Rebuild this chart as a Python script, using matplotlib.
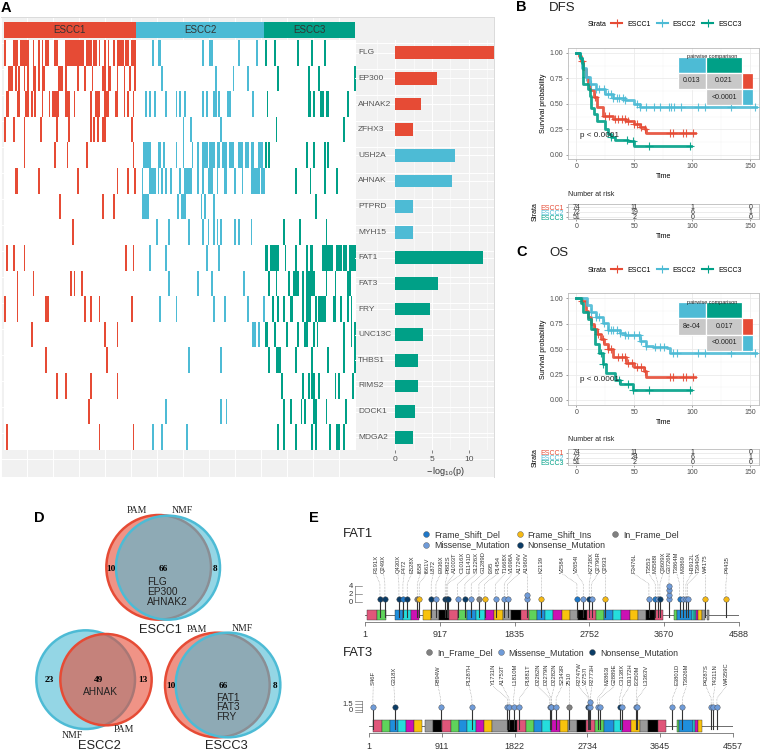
#multi panel figure: mutation heatmap, survival curves, venn diagrams, lollipops
import numpy as np
import matplotlib
matplotlib.use("Agg")
import matplotlib.pyplot as plt
from matplotlib.colors import ListedColormap, to_rgba
from matplotlib.lines import Line2D
from matplotlib.patches import Circle, Rectangle

plt.rcParams['font.family'] = ['Liberation Sans', 'DejaVu Sans']
plt.rcParams['mathtext.fontset'] = 'custom'
plt.rcParams['mathtext.rm'] = 'Liberation Sans'
plt.rcParams['mathtext.default'] = 'regular'

RED = '#E64B35'
BLUE = '#4DBBD5'
GREEN = '#00A087'

#panel A data
groups = ['ESCC1', 'ESCC2', 'ESCC3']
group_sizes = [74, 72, 51]
genes = ['FLG', 'EP300', 'AHNAK2', 'ZFHX3', 'USH2A', 'AHNAK', 'PTPRD', 'MYH15',
         'FAT1', 'FAT3', 'FRY', 'UNC13C', 'THBS1', 'RIMS2', 'DOCK1', 'MDGA2']
gene_group = [0, 0, 0, 0, 1, 1, 1, 1, 2, 2, 2, 2, 2, 2, 2, 2]
logp = [13.5, 5.7, 3.5, 2.45, 8.15, 7.75, 2.4, 2.4, 12.0, 5.8, 4.65, 3.8, 3.05, 3.05, 2.6, 2.4]
#mutated samples per gene, as runs (first, stop)
mutated = [
    [(0,1),(5,8),(9,14),(16,17),(19,20),(21,22),(23,25),(28,30),(34,45),(46,49),(50,52),(53,54),(56,57),(58,59),
     (61,62),(63,67),(68,70),(71,74),(83,84),(86,88),(111,112),(115,117),(131,132),(141,142),(146,147),(151,152),
     (164,165),(172,173),(179,180)],
    [(2,5),(6,7),(8,9),(11,12),(13,14),(16,18),(19,20),(21,23),(30,33),(34,35),(41,42),(45,46),(49,50),(55,57),
     (58,60),(63,64),(67,68),(70,71),(73,74),(88,89),(118,119),(128,129),(136,137),(153,154),(170,171),(176,177),(196,197)],
    [(1,3),(7,9),(12,14),(15,16),(17,18),(21,22),(25,26),(27,31),(34,37),(39,40),(48,49),(51,54),(56,59),(62,64),
     (67,68),(69,70),(72,73),(79,80),(81,82),(84,85),(90,91),(96,97),(98,99),(101,102),(111,112),(113,114),(117,119),
     (120,121),(125,127),(139,140),(147,148),(170,172),(173,174),(177,179),(180,182),(192,193)],
    [(0,1),(5,6),(11,12),(20,21),(29,30),(36,37),(48,49),(50,51),(52,53),(55,57),(71,72),(100,101),(104,105),(121,122),
     (152,153),(190,191)],
    [(11,12),(28,29),(35,36),(46,47),(72,73),(78,82),(86,88),(89,90),(96,97),(100,101),(105,106),(108,109),(111,114),
     (115,118),(119,121),(122,125),(126,129),(131,134),(135,137),(138,140),(142,145),(146,147),(148,149),(169,170),
     (173,174),(179,180),(181,182)],
    [(6,8),(19,20),(41,42),(63,64),(69,70),(73,74),(77,78),(81,85),(86,87),(88,89),(90,91),(93,94),(98,99),(101,105),
     (108,109),(111,112),(114,117),(119,120),(123,125),(129,130),(133,134),(138,143),(144,146),(163,164),(171,172),
     (179,180),(186,187)],
    [(31,32),(55,56),(61,62),(77,81),(97,98),(99,102),(110,111),(112,113),(117,118),(174,175)],
    [(38,39),(85,86),(92,93),(103,104),(111,112),(114,115),(117,118),(119,120),(121,122),(129,130),(131,132),(138,139),
     (156,157),(165,166),(180,181)],
    [(1,2),(5,6),(11,12),(68,69),(72,73),(81,82),(90,91),(113,114),(120,121),(146,148),(149,154),(157,158),(163,164),
     (169,170),(171,173),(178,184),(186,189),(190,192),(193,197)],
    [(7,8),(16,17),(37,38),(39,40),(43,44),(92,93),(108,109),(116,117),(134,135),(148,149),(152,153),(159,160),(162,165),
     (167,168),(169,174),(180,181),(185,186),(192,194)],
    [(0,1),(7,8),(23,25),(45,46),(48,49),(53,54),(71,72),(87,88),(96,97),(117,118),(123,124),(136,137),(145,146),(150,151),
     (153,154),(156,157),(160,162),(167,168),(169,172),(174,175),(176,180),(184,186),(188,189),(192,193),(194,195)],
    [(15,16),(56,57),(63,64),(139,141),(142,143),(146,148),(151,152),(158,159),(164,165),(168,170),(173,174),(175,176),
     (190,191),(194,195),(196,197)],
    [(23,24),(57,58),(103,104),(121,122),(148,149),(152,155),(163,164),(172,173),(181,182),(190,191),(196,197)],
    [(29,30),(34,35),(48,49),(63,64),(155,156),(167,168),(170,171),(172,174),(176,177),(185,186),(187,188),(195,196)],
    [(47,48),(90,91),(121,122),(124,125),(156,157),(160,161),(166,167),(168,169),(173,175),(180,181),(191,192)],
    [(1,2),(53,54),(72,73),(83,84),(88,89),(102,103),(153,154),(156,157),(163,164),(172,173),(174,175),(182,183),(186,188),(190,191)],
]

#survival curves, time and probability at each step, then censoring times
dfs_t = [[0,2,4,6,8,10,12,15,18,23,32,43,50,55,59,60,102],
         [0,3,5,8,12,17,25,32,42,50,55,155],
         [0,3,5,6,10,12,13,15,18,25,27,30,33,45,50,99]]
dfs_s = [[1,.97,.92,.84,.76,.70,.64,.57,.47,.38,.35,.33,.30,.27,.25,.21,.21],
         [1,.95,.85,.76,.70,.65,.60,.56,.54,.50,.47,.47],
         [1,.95,.90,.70,.65,.58,.46,.40,.33,.25,.20,.17,.14,.13,.09,.09]]
dfs_c = [[5,16,25,28,33,36,39,42,45,50,52,56,59,81,83,92,95,101],
         [8,13,17,20,24,27,30,32,35,37,40,42,52,55,60,67,72,80,82,84,90,105,111,133,154],
         [30,44,49,63,98]]
os_t = [[0,5,8,10,13,15,18,21,24,27,32,43,50,58,60,102],
        [0,9,13,17,23,27,38,42,55,60,66,78,81,155],
        [0,4,6,10,13,16,20,23,26,33,38,49,99]]
os_s = [[1,.97,.88,.82,.75,.70,.65,.60,.55,.50,.42,.36,.32,.28,.23,.23],
        [1,.93,.87,.82,.76,.69,.66,.64,.58,.53,.52,.51,.46,.46],
        [1,.95,.87,.80,.70,.55,.46,.35,.27,.20,.16,.10,.10]]
os_c = [[5,16,19,23,27,30,36,39,42,45,48,52,56,59,81,83,92,95,101],
        [13,17,20,24,27,30,32,35,38,42,45,50,54,56,60,68,72,76,83,87,105,111,133,154],
        [21,23,37,45,49,63,98]]
risk_times = [0, 50, 100, 150]
dfs_risk = [[74, 11, 1, 0], [72, 19, 6, 1], [51, 2, 0, 0]]
os_risk = [[74, 11, 1, 0], [72, 24, 6, 1], [51, 2, 0, 0]]
dfs_pair = ['0.013', '0.021', '<0.0001']
os_pair = ['8e-04', '0.017', '<0.0001']

#venn counts
venn_left = [10, 23, 10]
venn_mid = [66, 49, 66]
venn_right = [8, 13, 8]
venn_genes = ['FLG\nEP300\nAHNAK2', 'AHNAK', 'FAT1\nFAT3\nFRY']

#lollipop data
mut_colors = {'D': '#1F78C8', 'I': '#F5B915', 'G': '#808080', 'M': '#6F9BD8', 'N': '#0B3C66'}
mut_names = {'D': 'Frame_Shift_Del', 'I': 'Frame_Shift_Ins', 'G': 'In_Frame_Del',
             'M': 'Missense_Mutation', 'N': 'Nonsense_Mutation'}
dom_colors = {'p': '#E0567A', 'g': '#5FD35B', 'b': '#1F8FDC', 'c': '#25DDDD', 'm': '#CC11B4',
              'y': '#F8C20D', 'a': '#9A9A9A', 'k': '#000000', 't': '#20B2AA'}
fat1_len = 4588
fat1_ticks = [1, 917, 1835, 2752, 3670, 4588]
fat1_dom_edges = [(29,151,'p'),(151,253,'g'),(364,466,'b'),(466,564,'c'),(564,666,'m'),(711,813,'y'),(813,912,'a'),
                  (912,1034,'k'),(1034,1136,'p'),(1136,1247,'g'),(1247,1365,'b'),(1365,1468,'c'),(1468,1582,'m'),
                  (1582,1688,'y'),(1688,1790,'a'),(1790,1913,'k'),(1913,2007,'p'),(2007,2109,'g'),(2109,2212,'b'),
                  (2212,2310,'c'),(2310,2412,'m'),(2412,2510,'y'),(2510,2612,'a'),(2612,2727,'k'),(2727,2829,'p'),
                  (2829,2931,'g'),(2931,3037,'b'),(3037,3140,'c'),(3140,3246,'m'),(3246,3348,'y'),(3348,3450,'a'),
                  (3450,3553,'k'),(3553,3651,'p'),(3794,3827,'g'),(3827,4006,'b'),(4006,4035,'c'),(4035,4055,'t'),
                  (4055,4088,'m'),(4088,4129,'y'),(4129,4170,'a'),(4190,4219,'a')]
fat1_labels = ['R191X','Q249X','Q430X','F472','E528X','I658','I661V','L872','E936X','P882S','A1003T','C1016X','E1141D',
               'S1226X','G1289D','I395','P1454','T1668X','V1698A','A1724V','A1960V','K2139','V2584','V2654I','K2738X',
               'Q2796R','Q2933','F3476L','T3553','M3588I','Q3609X','G3726N','T3864M','M3869','H3912L','T3940A','W4175','P4435']
fat1_pos = [184,245,417,466,519,642,666,813,871,985,1003,1016,1136,1226,1304,1398,1468,1602,1709,1750,1987,2163,2600,2678,
            2751,2780,2948,3483,3561,3594,3618,3728,3859,3904,3937,3957,4174,4427]
fat1_class = list('NNNDNGINMNNNMNMGIMMMMIDMNMIMDMNMDMMMII')
fat1_count = [1]*20 + [2] + [1]*10 + [4] + [1]*6
fat1_label_x = [131,229,405,482,572,679,756,838,928,1014,1100,1190,1276,1361,1451,1541,1631,1721,1803,1893,1987,2163,2420,
                2596,2772,2858,2948,3299,3483,3561,3655,3732,3826,3904,4006,4084,4174,4440]
fat3_len = 4557
fat3_ticks = [1, 911, 1822, 2734, 3645, 4557]
fat3_dom_edges = [(50,155,'p'),(155,259,'g'),(259,364,'b'),(364,460,'c'),(460,564,'m'),(564,665,'y'),(702,803,'a'),(803,911,'k'),
                  (911,1020,'p'),(1020,1120,'g'),(1120,1225,'b'),(1225,1333,'c'),(1333,1434,'m'),(1434,1534,'y'),(1534,1735,'a'),
                  (1735,1852,'k'),(1852,1960,'p'),(1960,2061,'g'),(2061,2169,'b'),(2169,2278,'c'),(2278,2387,'m'),(2387,2495,'y'),
                  (2495,2604,'a'),(2604,2721,'k'),(2721,2830,'p'),(2830,2947,'g'),(2947,3064,'b'),(3064,3168,'c'),(3168,3277,'m'),
                  (3277,3390,'y'),(3390,3499,'a'),(3499,3620,'k'),(3620,3724,'p'),(3854,3887,'g'),(3887,4063,'b'),(4063,4084,'c'),
                  (4084,4126,'m'),(4126,4167,'y')]
fat3_labels = ['S46F','G318X','R894W','P1287H','Y1731N','A1753T','L1810M','P1881T','D2262N','D2279N','D2282N','S2343R','2510',
               'R2747W','V2757I','R2773H','M2863I','G2889E','C3138X','D3172H','I3350M','L3363V','E3801D','T3926M','P4287S',
               'T4311N','W4359C']
fat3_pos = [46,318,894,1287,1731,1753,1810,1881,2262,2279,2282,2343,2510,2747,2757,2773,2863,2889,3138,3172,3350,3363,3801,3926,
            4287,4311,4359]
fat3_class = list('MNMMMMMMMMMMGNMMMMNMMMMMMMM')
fat3_count = [1]*15 + [2] + [1]*11
fat3_label_x = [50,309,865,1254,1551,1672,1827,1994,2111,2220,2320,2416,2508,2625,2709,2788,2977,3077,3177,3265,3357,3473,3860,
                3977,4221,4334,4476]

W, H = 766, 751
fig = plt.figure(figsize=(W/100, H/100), dpi=100)

def px_axes(x0, y0, x1, y1, **kw):
    return fig.add_axes([x0/W, 1-y1/H, (x1-x0)/W, (y1-y0)/H], **kw)

def px_text(x, y, s, **kw):
    kw.setdefault('va', 'center')
    fig.text(x/W, 1-y/H, s, **kw)

for s, x, y in [('A', 1, 8), ('B', 516, 7), ('C', 516, 252), ('D', 34, 518), ('E', 309, 518)]:
    px_text(x, y, s, fontsize=10.5, fontweight='bold', color='black')

#panel A
bg = px_axes(1, 17, 494, 477, facecolor='#F1F1F1')
bg.set_xlim(0, 493)
bg.set_ylim(460, 0)
bg.set_xticks(np.arange(0, 355, 26))
bg.set_yticks(np.arange(0, 461, 26))
bg.grid(color='white', lw=0.7)
bg.tick_params(length=0, labelbottom=False, labelleft=False)
for sp in bg.spines.values():
    sp.set_color('#DADADA')
    sp.set_linewidth(0.7)
bg.spines['left'].set_visible(False)
bg.spines['bottom'].set_visible(False)

strip = px_axes(4, 22, 355, 38)
left = 0
for name, n, c in zip(groups, group_sizes, [RED, BLUE, GREEN]):
    strip.barh(0, n, left=left, height=1, color=c)
    strip.text(left+n/2, 0, name, ha='center', va='center', fontsize=7, color='#333333')
    left += n
strip.set_xlim(0, sum(group_sizes))
strip.set_ylim(-0.5, 0.5)
strip.axis('off')

mat = np.zeros((len(genes), sum(group_sizes)))
starts = np.cumsum([0] + group_sizes)
for i, runs in enumerate(mutated):
    for a, b in runs:
        mat[i, a:b] = 1
for g in range(3):
    mat[:, starts[g]:starts[g+1]] *= g+1
heat = px_axes(4, 40, 355, 450)
heat.imshow(mat, aspect='auto', interpolation='nearest', vmin=0, vmax=3,
            cmap=ListedColormap(['white', RED, BLUE, GREEN]))
heat.axis('off')

barax = px_axes(355, 40, 494, 450, facecolor='none')
y = np.arange(len(genes))
barax.barh(y, logp, height=0.5, color=[[RED, BLUE, GREEN][g] for g in gene_group], zorder=3)
barax.set_xlim(-5.53, 13.45)
barax.set_ylim(15.5, -0.5)
barax.set_xticks([0, 5, 10])
barax.set_xticks([-2.5, 2.5, 7.5, 12.5], minor=True)
barax.set_yticks(y)
barax.grid(color='white', lw=0.7)
barax.grid(which='minor', axis='x', color='white', lw=0.4)
barax.tick_params(axis='y', length=0, labelleft=False)
barax.tick_params(axis='x', which='minor', length=0)
barax.tick_params(axis='x', length=2, width=0.5, color='#555555', labelsize=6, labelcolor='#4D4D4D', pad=2)
for sp in barax.spines.values():
    sp.set_visible(False)
for i, g in enumerate(genes):
    barax.text(-5.1, i, g, ha='left', va='center', fontsize=6, color='#555555')
barax.set_xlabel(r'$-\,log_{10}(p)$', fontsize=6.5, color='#333333', labelpad=1)
barax.xaxis.set_label_coords((445.5-355)/139, -0.037)

#panels B and C
def km_panel(top, bottom, ylo, yhi, title_y, legend_y, times, probs, cens, pair, inset, risk, risk_box, risk_title_y,
             risk_tick_y, show_time):
    ax = px_axes(567.7, top, 759, bottom)
    for t, s, c, col in zip(times, probs, cens, [RED, BLUE, GREEN]):
        t = np.array(t)
        s = np.array(s)
        ax.step(t, s, where='post', color=col, lw=2, alpha=0.9, zorder=3)
        cy = s[np.searchsorted(t, c, side='right')-1]
        ax.plot(c, cy, '+', color=col, ms=6, mew=0.8, alpha=0.9, zorder=3)
    ax.set_xlim(-7.4, 157.5)
    ax.set_ylim(ylo, yhi)
    ax.set_xticks(risk_times)
    ax.set_xticks([25, 75, 125], minor=True)
    ax.set_yticks([0, .25, .5, .75, 1])
    ax.set_yticks([.125, .375, .625, .875], minor=True)
    ax.set_yticklabels(['0.00', '0.25', '0.50', '0.75', '1.00'])
    ax.grid(color='#EBEBEB', lw=0.6)
    ax.grid(which='minor', color='#F2F2F2', lw=0.3)
    ax.set_axisbelow(True)
    ax.tick_params(which='minor', length=0)
    ax.tick_params(length=1.5, width=0.4, color='#555555', labelsize=5, labelcolor='#4D4D4D', pad=1.5)
    for sp in ax.spines.values():
        sp.set_color('#BBBBBB')
        sp.set_linewidth(0.6)
    ax.set_xlabel('Time', fontsize=5, labelpad=2)
    ax.set_ylabel('Survival probability', fontsize=5, labelpad=2)
    ax.text(3, 0.19 if top < 100 else 0.20, 'p < 0.0001', fontsize=5.9, color='#222222', va='center', zorder=5)
    px_text(549, title_y, 'DFS' if top < 100 else 'OS', fontsize=9.5, color='#222222')
    px_text(588, legend_y, 'Strata', fontsize=5)
    hs = [Line2D([], [], color=c, lw=1.5, marker='+', ms=6, mew=0.8) for c in [RED, BLUE, GREEN]]
    fig.legend(hs, groups, ncol=3, frameon=False, fontsize=5, loc='center left',
               bbox_to_anchor=(611/W, 1-legend_y/H), borderpad=0, handlelength=1.6, handletextpad=0.7,
               columnspacing=0.9, borderaxespad=0)

    #pairwise table
    tb = px_axes(677.7, inset[0], 753.3, inset[1], facecolor='none')
    col_edges = [0, 0.37, 0.855, 1]
    row_edges = [1, 0.67, 0.33, 0]
    cells = [[BLUE, GREEN, None], ['#C8C8C8', '#C8C8C8', RED], [None, '#C8C8C8', BLUE]]
    text = [[None, None, None], [pair[0], pair[1], None], [None, pair[2], None]]
    for r in range(3):
        for c in range(3):
            if cells[r][c] is None:
                continue
            tb.add_patch(Rectangle((col_edges[c], row_edges[r+1]), col_edges[c+1]-col_edges[c],
                                   row_edges[r]-row_edges[r+1], fc=cells[r][c], ec='white', lw=0.9))
            if text[r][c]:
                tb.text((col_edges[c]+col_edges[c+1])/2, (row_edges[r]+row_edges[r+1])/2, text[r][c],
                        fontsize=5, ha='center', va='center', color='#222222')
    tb.set_xlim(0, 1)
    tb.set_ylim(0, 1)
    tb.axis('off')
    tb.text(0.12, 1.0, 'pairwise comparison', fontsize=4, ha='left', va='center', color='#222222', clip_on=False)

    #numbers at risk
    rk = px_axes(567.7, risk_box[0], 759, risk_box[1])
    for r, row in enumerate(risk):
        for t, n in zip(risk_times, row):
            rk.text(t, 2-r, str(n), ha='center', va='center', fontsize=5, color='#333333')
    rk.set_xlim(-7.4, 157.5)
    rk.set_ylim(-0.47, 2.68)
    rk.set_xticks(risk_times)
    rk.set_yticks([2, 1, 0])
    rk.set_yticklabels(groups)
    for lab, c in zip(rk.get_yticklabels(), [RED, BLUE, GREEN]):
        lab.set_color(c)
    rk.grid(color='#E5E5E5', lw=0.5)
    rk.tick_params(axis='y', length=1.5, width=0.4, labelsize=5, pad=1.5, color='#555555')
    rk.tick_params(axis='x', length=1.5, width=0.4, labelsize=5, labelcolor='#4D4D4D', pad=1.5, color='#555555')
    for sp in rk.spines.values():
        sp.set_color('#BBBBBB')
        sp.set_linewidth(0.6)
    rk.set_ylabel('Strata', fontsize=5, labelpad=1)
    if show_time:
        rk.set_xlabel('Time', fontsize=5, labelpad=2)
    px_text(568, risk_title_y, 'Number at risk', fontsize=5, color='#222222')

km_panel(48.3, 159.3, -0.045, 1.046, 8, 24, dfs_t, dfs_s, dfs_c, dfs_pair, (56.7, 105.3), dfs_risk, (204, 219.3), 194, 227, True)
km_panel(293.3, 405, -0.05, 1.05, 253, 270, os_t, os_s, os_c, os_pair, (302.3, 350.7), os_risk, (449.3, 465.3), 440, 473, False)

#panel D
vn = px_axes(0, 490, 300, 751, facecolor='none')
vn.set_xlim(0, 900)
vn.set_ylim(783, 0)
vn.axis('off')
venn_circles = [[(RED, 476, 232, 157), (BLUE, 504, 233, 156)],
                [(BLUE, 257, 569, 148), (RED, 318, 569, 137)],
                [(RED, 652, 585, 157), (BLUE, 684, 585, 157)]]
for pair_c in venn_circles:
    for c, cx, cy, r in pair_c:
        vn.add_patch(Circle((cx, cy), r, fc=to_rgba(c, 0.6), ec=c, lw=1.8))
num_pos = [(334, 490, 645, 236), (147, 294, 430, 571), (513, 670, 824, 589)]
gene_pos = [(440, 306), (249, 607), (648, 652)]
for i, (xl, xm, xr, yy) in enumerate(num_pos):
    for xx, v in zip((xl, xm, xr), (venn_left[i], venn_mid[i], venn_right[i])):
        vn.text(xx, yy, str(v), family='Liberation Serif', fontweight='bold', fontsize=6.7, ha='center', va='center')
    vn.text(gene_pos[i][0], gene_pos[i][1], venn_genes[i], fontsize=7.3, ha='left', va='center', color='#222222', linespacing=0.95)
for txt, xx, yy in [('PAM', 412, 62), ('NMF', 547, 62), ('PAM', 592, 418), ('NMF', 726, 416), ('NMF', 218, 735), ('PAM', 372, 720)]:
    vn.text(xx, yy, txt, family='Liberation Serif', fontsize=7, ha='center', va='center', color='#222222')
for txt, xx, yy in [('ESCC1', 481, 420), ('ESCC2', 299, 768), ('ESCC3', 678, 768)]:
    vn.text(xx, yy, txt, fontsize=9.3, ha='center', va='center', color='#222222')

#panel E
def lollipop(box, length, ticks, doms, labels, pos, cls, count, label_x, backbone, head_y, knee_y, lab_y, dom_y):
    ax = px_axes(box[0], box[1], box[2], box[3], facecolor='none')
    ax.set_xlim(1, length)
    ax.set_ylim(0, box[3]-box[1])
    ax.plot([1, length], [backbone, backbone], color='#555555', lw=0.6, zorder=1)
    for a, b, c in doms:
        ax.add_patch(Rectangle((a, dom_y[0]), b-a, dom_y[1]-dom_y[0], fc=dom_colors[c], ec='#333333', lw=0.3, zorder=2))
    for p, c, n, lab, lx in zip(pos, cls, count, labels, label_x):
        top = head_y + (n-1)*4.6
        ax.plot([p, p], [dom_y[0]+3, head_y], color='#333333', lw=0.8, zorder=3)
        ax.plot([p, p, lx], [top, knee_y, lab_y-1], color='#777777', lw=0.4, ls=':', zorder=1)
        for k in range(n):
            ax.plot(p, head_y+k*4.6, 'o', ms=3.9, mfc=mut_colors[c], mec='#444444', mew=0.3, zorder=4)
        ax.text(lx, lab_y, lab, rotation=90, fontsize=4.2, ha='center', va='bottom', color='#333333')
    ax.set_xticks(ticks)
    ax.tick_params(axis='x', length=3, width=0.5, color='#555555', labelsize=6.5, labelcolor='#333333', pad=3)
    ax.set_yticks([])
    for k in ['top', 'left', 'right']:
        ax.spines[k].set_visible(False)
    ax.spines['bottom'].set_color('#555555')
    ax.spines['bottom'].set_linewidth(0.5)
    return ax

a1 = lollipop((365, 505, 739, 621.7), fat1_len, fat1_ticks, fat1_dom_edges, fat1_labels, fat1_pos, fat1_class, fat1_count,
              fat1_label_x, 6.7, 22.3, 38, 49, (1.7, 11.7))
a3 = lollipop((369.3, 625, 732.7, 733.3), fat3_len, fat3_ticks, fat3_dom_edges, fat3_labels, fat3_pos, fat3_class, fat3_count,
              fat3_label_x, 7.7, 26.3, 35, 48, (1.7, 13.3))
#count scales left of the tracks
a1.plot([-122, -122], [19.3, 35.3], color='#555555', lw=0.4, clip_on=False)
for val, yy in zip([0, 2, 4], [19.3, 27.3, 35.3]):
    a1.plot([-122, -40], [yy, yy], color='#555555', lw=0.4, clip_on=False)
    a1.text(-150, yy, str(val), fontsize=5.5, ha='right', va='center', color='#333333')
a3.plot([-96, -96], [21, 32], color='#555555', lw=0.4, clip_on=False)
for yy in np.linspace(21, 32, 5):
    a3.plot([-176, -96], [yy, yy], color='#555555', lw=0.4, clip_on=False)
a3.text(-200, 29, '1.5', fontsize=5.5, ha='right', va='center', color='#333333')
a3.text(-200, 23, '0', fontsize=5.5, ha='right', va='center', color='#333333')

px_text(343, 534, 'FAT1', fontsize=9.4, color='#222222')
px_text(343, 653, 'FAT3', fontsize=9.4, color='#222222')

def mut_legend(keys, ncol, x, y, spacing):
    hs = [Line2D([], [], ls='none', marker='o', ms=4.2, mfc=mut_colors[k], mec='#555555', mew=0.3) for k in keys]
    fig.legend(hs, [mut_names[k] for k in keys], ncol=ncol, frameon=False, fontsize=6.3, loc='center left',
               bbox_to_anchor=(x/W, 1-y/H), borderpad=0, borderaxespad=0, handletextpad=0.4, columnspacing=spacing,
               labelspacing=0.15, handlelength=1, labelcolor='#333333')

mut_legend(['D', 'M', 'I', 'N', 'G'], 3, 422, 540, 0.6)
mut_legend(['G', 'M', 'N'], 3, 425, 653, 0.4)

fig.savefig('out.png', dpi=100)
